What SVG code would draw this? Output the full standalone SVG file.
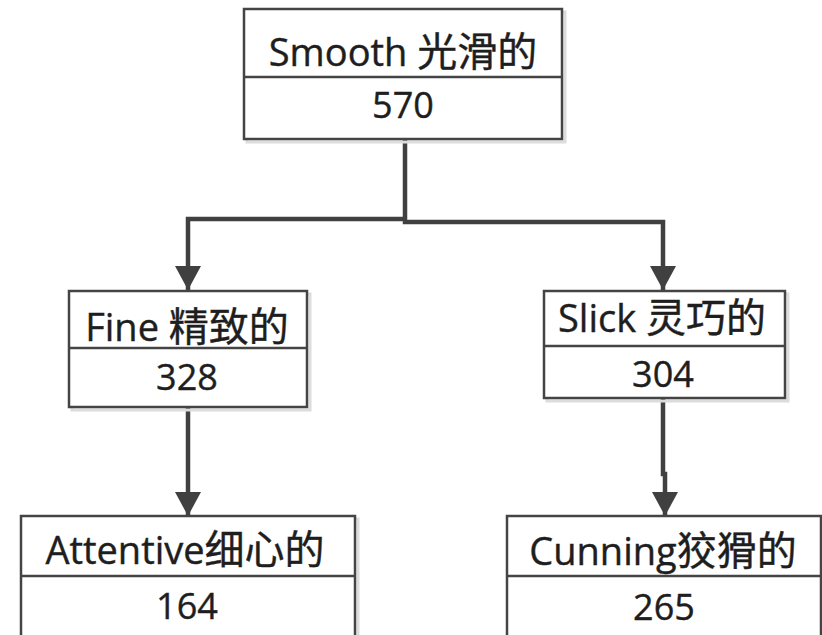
<svg xmlns="http://www.w3.org/2000/svg" width="822" height="635" viewBox="0 0 822 635">
<defs>
<style>
.shadow{fill:none;stroke:#dcdcdc;stroke-width:3}
.box{fill:#fff;stroke:#444;stroke-width:2.5}
.div{stroke:#444;stroke-width:2.5}
.t{font-family:"Open Sans","Noto Sans CJK SC",sans-serif;font-size:36px;fill:#1e1e1e;text-anchor:middle;stroke:#1e1e1e;stroke-width:0.4}
.l{font-size:38px}
.c{font-size:40px}
.conn{fill:none;stroke:#404040;stroke-width:4.5}
</style>
<marker id="ad" markerUnits="userSpaceOnUse" markerWidth="28" markerHeight="26" refX="24" refY="13" orient="auto" viewBox="0 0 28 26">
<path d="M0 0 L24 13 L0 26 Z" fill="#404040"/>
</marker>
</defs>
<g id="connectors">
<path class="conn" d="M405 139 V222 H663 V290" marker-end="url(#ad)"/>
<path class="conn" d="M405 219 H188 V290" marker-end="url(#ad)"/>
<path class="conn" d="M188 407 V516" marker-end="url(#ad)"/>
<path class="conn" d="M663 398 V474 H665 V516" marker-end="url(#ad)"/>
</g>
<g id="smooth">
<rect class="shadow" x="247" y="12" width="318" height="130"/>
<rect class="box" x="244" y="9" width="318" height="130"/>
<line class="div" x1="244" y1="77" x2="562" y2="77"/>
<text class="t l" x="403" y="66">Smooth <tspan class="c">光滑的</tspan></text>
<text class="t" x="403" y="118">570</text>
</g>
<g id="fine">
<rect class="shadow" x="72" y="294" width="238" height="116"/>
<rect class="box" x="69" y="291" width="238" height="116"/>
<line class="div" x1="69" y1="348" x2="307" y2="348"/>
<text class="t l" x="187" y="341">Fine <tspan class="c">精致的</tspan></text>
<text class="t" x="187" y="390">328</text>
</g>
<g id="slick">
<rect class="shadow" x="547" y="294" width="241" height="107"/>
<rect class="box" x="544" y="291" width="241" height="107"/>
<line class="div" x1="544" y1="346" x2="785" y2="346"/>
<text class="t l" x="662" y="332">Slick <tspan class="c">灵巧的</tspan></text>
<text class="t" x="663" y="387">304</text>
</g>
<g id="attentive">
<rect class="shadow" x="24" y="519" width="334" height="130"/>
<rect class="box" x="21" y="516" width="334" height="130"/>
<line class="div" x1="21" y1="576" x2="355" y2="576"/>
<text class="t l" x="185" y="564">Attentive<tspan class="c">细心的</tspan></text>
<text class="t" x="187" y="619">164</text>
</g>
<g id="cunning">
<rect class="shadow" x="510" y="519" width="314" height="130"/>
<rect class="box" x="507" y="516" width="314" height="130"/>
<line class="div" x1="507" y1="576" x2="821" y2="576"/>
<text class="t l" x="663" y="565">Cunning<tspan class="c">狡猾的</tspan></text>
<text class="t" x="664" y="620">265</text>
</g>
</svg>
